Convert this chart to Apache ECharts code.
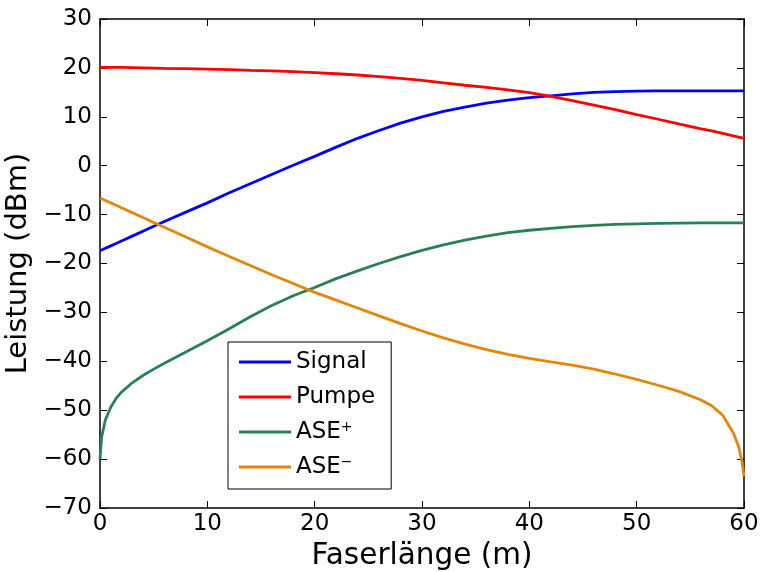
<!DOCTYPE html>
<html>
<head>
<meta charset="utf-8">
<script src="https://cdn.jsdelivr.net/npm/echarts@6/dist/echarts.min.js"></script>
<style>html,body{margin:0;padding:0;background:#fff}#c{width:760px;height:572px}</style>
</head>
<body>
<div id="c"></div>
<script>
// Faserlänge (m)
var xs = [0, 0.15, 0.5, 1, 1.5, 2, 3, 4, 5, 6, 8, 10, 12, 14, 16, 18, 20, 22, 24, 26, 28, 30, 32, 34, 36, 38, 40, 42, 44, 46, 48, 50, 52, 54, 56, 57, 58, 59, 59.5, 59.8, 60];
var signal = [-17.4, -17.25, -16.9, -16.4, -15.9, -15.4, -14.4, -13.4, -12.4, -11.4, -9.5, -7.6, -5.6, -3.7, -1.8, 0.1, 1.9, 3.8, 5.6, 7.2, 8.7, 10.0, 11.1, 12.0, 12.8, 13.4, 13.9, 14.3, 14.7, 15.0, 15.15, 15.25, 15.3, 15.3, 15.3, 15.3, 15.3, 15.3, 15.3, 15.3, 15.3];
var pumpe = [20.1, 20.1, 20.1, 20.1, 20.1, 20.1, 20.05, 20.0, 19.95, 19.9, 19.85, 19.75, 19.65, 19.5, 19.4, 19.25, 19.05, 18.8, 18.55, 18.2, 17.85, 17.45, 16.95, 16.45, 16.0, 15.5, 14.95, 14.2, 13.3, 12.4, 11.45, 10.45, 9.5, 8.5, 7.55, 7.1, 6.6, 6.1, 5.85, 5.7, 5.6];
var asePlus = [-60, -55.5, -52.0, -49.4, -47.6, -46.3, -44.4, -42.9, -41.6, -40.4, -38.1, -35.8, -33.4, -30.9, -28.6, -26.6, -24.9, -23.1, -21.5, -20.0, -18.6, -17.3, -16.2, -15.2, -14.4, -13.7, -13.2, -12.8, -12.45, -12.2, -12.0, -11.9, -11.8, -11.75, -11.7, -11.7, -11.7, -11.7, -11.7, -11.7, -11.7];
var aseMinus = [-6.6, -6.75, -7.1, -7.6, -8.1, -8.6, -9.6, -10.6, -11.6, -12.6, -14.6, -16.6, -18.5, -20.4, -22.3, -24.1, -25.9, -27.5, -29.1, -30.7, -32.3, -33.8, -35.2, -36.5, -37.6, -38.6, -39.4, -40.1, -40.8, -41.6, -42.6, -43.7, -44.9, -46.2, -47.9, -49.1, -51.0, -54.6, -57.4, -60.4, -63.5];
var seriesNames = ['Signal', 'Pumpe', 'ASE+', 'ASE\u2212'];
var seriesColors = ['#0000ff', '#ff0000', '#2a8055', '#e3860a'];
var xTicks = [0, 10, 20, 30, 40, 50, 60];
var yTicks = [-70, -60, -50, -40, -30, -20, -10, 0, 10, 20, 30];

function pairs(ys) { return xs.map(function (x, i) { return [x, ys[i]]; }); }
var allY = [signal, pumpe, asePlus, aseMinus];
var FONT = 'DejaVu Sans';
var fmt = function (v) { return String(v).replace('-', '\u2212'); };

function axisCommon() {
  return {
    axisLine: { show: true, onZero: false, lineStyle: { color: '#000', width: 1.5 } },
    axisTick: { show: true, inside: true, length: 7, lineStyle: { color: '#000', width: 1 } },
    splitLine: { show: false }
  };
}

var chart = echarts.init(document.getElementById('c'), null, { renderer: 'canvas' });
chart.setOption({
  animation: false,
  backgroundColor: '#fff',
  grid: { left: 100, right: 16, top: 19, bottom: 64, containLabel: false, outerBoundsMode: 'none' },
  legend: {
    orient: 'vertical',
    left: 228, top: 342,
    data: seriesNames,
    backgroundColor: '#fff',
    borderColor: '#000', borderWidth: 1,
    padding: [8, 16, 10, 11],
    icon: 'rect',
    itemWidth: 52, itemHeight: 3, itemGap: 11,
    textStyle: {
      fontFamily: FONT, fontSize: 23, color: '#000', lineHeight: 24,
      rich: { sup: { fontFamily: FONT, fontSize: 14, lineHeight: 24, verticalAlign: 'top', color: '#000' } }
    },
    formatter: function (n) {
      if (n === 'ASE+') return 'ASE{sup|+}';
      if (n === 'ASE\u2212') return 'ASE{sup|\u2212}';
      return n;
    }
  },
  xAxis: [
    Object.assign(axisCommon(), {
      type: 'value', min: 0, max: 60, interval: 10, position: 'bottom',
      name: 'Faserl\u00e4nge (m)', nameLocation: 'middle', nameGap: 26,
      nameTextStyle: { fontFamily: FONT, fontSize: 29.5, color: '#000' },
      axisLabel: { fontFamily: FONT, fontSize: 23, color: '#000', margin: 5, formatter: fmt,
        customValues: xTicks }
    }),
    Object.assign(axisCommon(), {
      type: 'value', min: 0, max: 60, interval: 10, position: 'top',
      axisLabel: { show: false }
    })
  ],
  yAxis: [
    Object.assign(axisCommon(), {
      type: 'value', min: -70, max: 30, interval: 10, position: 'left',
      name: 'Leistung (dBm)', nameLocation: 'middle', nameGap: 47,
      nameTextStyle: { fontFamily: FONT, fontSize: 29, color: '#000' },
      axisLabel: { fontFamily: FONT, fontSize: 23, color: '#000', margin: 8, formatter: fmt,
        customValues: yTicks }
    }),
    Object.assign(axisCommon(), {
      type: 'value', min: -70, max: 30, interval: 10, position: 'right',
      axisLabel: { show: false }
    })
  ],
  series: seriesNames.map(function (n, i) {
    return {
      name: n, type: 'line', data: pairs(allY[i]), showSymbol: false, symbol: 'none',
      smooth: false,
      xAxisIndex: 0, yAxisIndex: 0,
      lineStyle: { color: seriesColors[i], width: 2.8 },
      itemStyle: { color: seriesColors[i] },
      z: 2 + i
    };
  })
});
</script>
</body>
</html>
